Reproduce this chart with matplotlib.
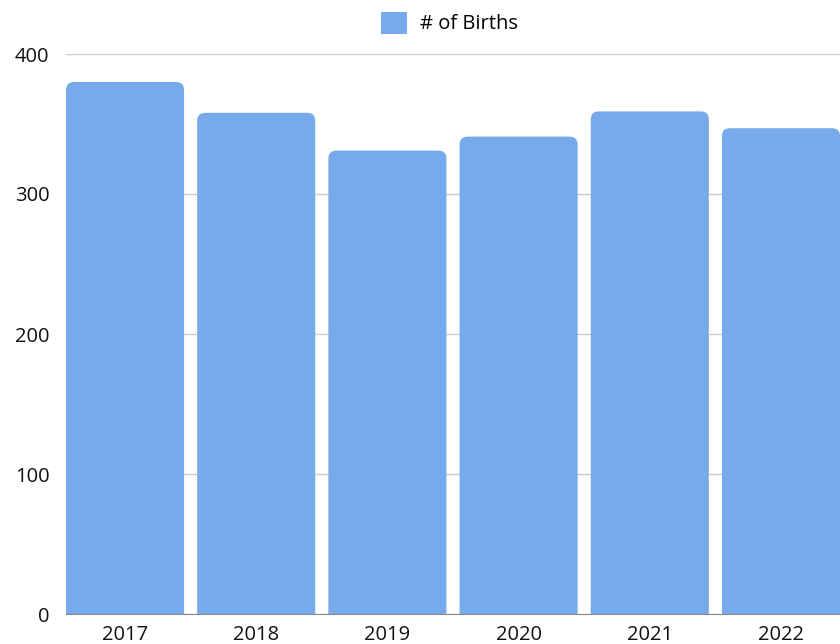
import matplotlib
matplotlib.use("Agg")
import matplotlib.pyplot as plt
from matplotlib.patches import FancyBboxPatch

# ── data ──
years = ["2017", "2018", "2019", "2020", "2021", "2022"]
births = [380, 358, 331, 341, 359, 347]

BAR_COLOR = "#77AAEA"
plt.rcParams["font.family"] = ["Open Sans", "DejaVu Sans"]

fig = plt.figure(figsize=(8.4, 6.44), dpi=100)
ax = fig.add_axes([66 / 840, 30 / 644, 774 / 840, 560 / 644])

x = range(len(years))
bars = ax.bar(x, births, width=0.9, color=BAR_COLOR, zorder=3)
ax.set_xlim(-0.45, len(years) - 0.55)
ax.set_ylim(0, 400)

# rounded top corners: swap each rectangle for a rounded box whose bottom sits below 0
px_x = 774 / (len(years) - 0.1)   # pixels per x unit
px_y = 560 / 400                  # pixels per y unit
r = 8 / px_x
for rect in bars:
    rect.set_visible(False)
    rb = FancyBboxPatch((rect.get_x(), -30), rect.get_width(), rect.get_height() + 30,
                        boxstyle=f"round,pad=0,rounding_size={r}",
                        mutation_aspect=px_x / px_y,
                        fc=BAR_COLOR, ec="none", zorder=3)
    ax.add_patch(rb)

ax.set_yticks([0, 100, 200, 300, 400])
ax.set_xticks(list(x))
ax.set_xticklabels(years)
ax.grid(axis="y", color="#cccccc", linewidth=1, zorder=0)
for s in ["top", "right", "left"]:
    ax.spines[s].set_visible(False)
ax.spines["bottom"].set_color("#888888")
ax.spines["bottom"].set_zorder(4)
ax.tick_params(axis="both", length=0, labelsize=14.5, colors="#111111")
ax.tick_params(axis="y", pad=12)
ax.tick_params(axis="x", pad=8)

# legend at top centre
fig.legend([FancyBboxPatch((0, 0), 1, 1, fc=BAR_COLOR, ec="none")], ["# of Births"],
           loc="center", bbox_to_anchor=(0.535, 1 - 23 / 644), frameon=False,
           fontsize=14.5, handlelength=1.3, handleheight=1.3, handletextpad=0.6)

fig.savefig("out.png", dpi=100)
